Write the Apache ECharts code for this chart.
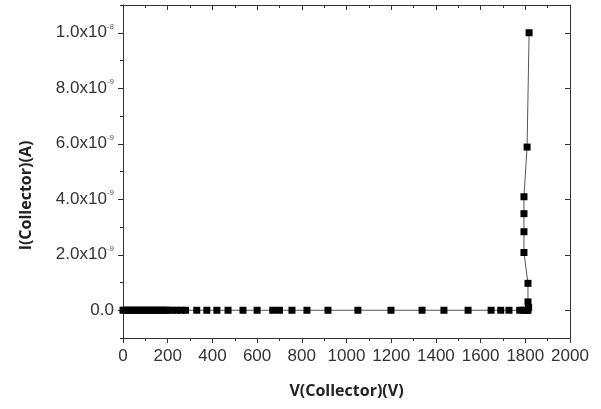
<!DOCTYPE html>
<html>
<head>
<meta charset="utf-8">
<script src="https://cdn.jsdelivr.net/npm/echarts@6/dist/echarts.min.js"></script>
<style>
    html, body { margin: 0; padding: 0; background: #fff; }
    #chart { width: 601px; height: 409px; }
</style>
</head>
<body>
<div id="chart"></div>
<script>
// 数据 (V, A)
const voltage = [
    0, 10, 20, 30, 40, 50, 60, 70, 80, 90, 100, 110, 120, 130, 140, 150, 160, 170, 180, 190, 200,
    220, 240, 260, 280, 330, 375, 420, 470, 537, 600, 670, 700, 756, 823, 917,
    1051, 1199, 1338, 1436, 1544, 1647, 1690, 1727, 1775, 1795, 1805, 1812,
    1815, 1812, 1812, 1794, 1794, 1794, 1794, 1808, 1817,
]
const current = [
    0, 0, 0, 0, 0, 0, 0, 0, 0, 0, 0, 0, 0, 0, 0, 0, 0, 0, 0, 0, 0,
    0, 0, 0, 0, 0, 0, 0, 0, 0, 0, 0, 0, 0, 0, 0,
    0, 0, 0, 0, 0, 0, 0, 0, 0, 0, 0, 0,
    1e-10, 3e-10, 9.7e-10, 2.08e-9, 2.83e-9, 3.48e-9, 4.09e-9, 5.88e-9, 1.0e-8,
]

// 刻度
const yMajor = [0, 2e-9, 4e-9, 6e-9, 8e-9, 1e-8]
const yMinor = [-1e-9, 1e-9, 3e-9, 5e-9, 7e-9, 9e-9, 1.1e-8]
const yLabels = ['0.0', '2.0x10|-9', '4.0x10|-9', '6.0x10|-9', '8.0x10|-9', '1.0x10|-8']

const labelFont = 'Liberation Sans, Arial, sans-serif'
const titleFont = 'Open Sans, Noto Sans, sans-serif'

const chart = echarts.init(document.getElementById('chart'))

const yLabelFmt = (v) => {
    const i = yMajor.findIndex((t) => Math.abs(t - v) < 1e-12)
    if (i < 0) return ''
    const [m, s] = yLabels[i].split('|')
    return s ? `{m|${m}}{s|${s}}` : `{m|${m}}`
}

const axisLine = { show: true, onZero: false, lineStyle: { color: '#333', width: 1 } }

const option = {
    animation: false,
    grid: { left: 123, right: 31, top: 5, bottom: 71 },
    xAxis: [
        {
            type: 'value',
            min: 0,
            max: 2000,
            interval: 200,
            name: 'V(Collector)(V)',
            nameLocation: 'middle',
            nameGap: 45,
            nameTextStyle: { fontFamily: titleFont, fontWeight: 'bold', fontSize: 16, color: '#222' },
            axisLine: axisLine,
            axisTick: { show: true, inside: false, length: 5, lineStyle: { color: '#333' } },
            minorTick: { show: true, splitNumber: 2, length: 3, lineStyle: { color: '#333' } },
            axisLabel: { fontFamily: labelFont, fontSize: 17, color: '#333', margin: 10, formatter: (v) => String(v) },
            splitLine: { show: false },
        },
        {
            type: 'value',
            position: 'top',
            min: 0,
            max: 2000,
            interval: 200,
            axisLine: axisLine,
            axisTick: { show: true, inside: true, length: 5, lineStyle: { color: '#333' } },
            minorTick: { show: true, splitNumber: 2, length: 3, lineStyle: { color: '#333' } },
            axisLabel: { show: false },
            splitLine: { show: false },
        },
    ],
    yAxis: [
        {
            type: 'value',
            min: -1e-9,
            max: 1.1e-8,
            name: 'I(Collector)(A)',
            nameLocation: 'middle',
            nameGap: 89,
            nameRotate: 90,
            nameTextStyle: { fontFamily: titleFont, fontWeight: 'bold', fontSize: 16, color: '#222', padding: [0, 48, 0, 0] },
            axisLine: axisLine,
            axisTick: { show: true, inside: false, length: 5, customValues: yMajor, lineStyle: { color: '#333' } },
            axisLabel: {
                customValues: yMajor,
                formatter: yLabelFmt,
                margin: 9,
                rich: {
                    m: { fontFamily: labelFont, fontSize: 17, color: '#333' },
                    s: { fontFamily: labelFont, fontSize: 8, color: '#555', verticalAlign: 'top', padding: [0, 0, 12, 0] },
                },
            },
            splitLine: { show: false },
        },
        {
            type: 'value',
            position: 'left',
            min: -1e-9,
            max: 1.1e-8,
            axisLine: { show: false },
            axisTick: { show: true, inside: false, length: 3, customValues: yMinor, lineStyle: { color: '#333' } },
            axisLabel: { show: false },
            splitLine: { show: false },
        },
        {
            type: 'value',
            position: 'right',
            min: -1e-9,
            max: 1.1e-8,
            axisLine: axisLine,
            axisTick: { show: true, inside: true, length: 5, customValues: yMajor, lineStyle: { color: '#333' } },
            axisLabel: { show: false },
            splitLine: { show: false },
        },
        {
            type: 'value',
            position: 'right',
            min: -1e-9,
            max: 1.1e-8,
            axisLine: { show: false },
            axisTick: { show: true, inside: true, length: 3, customValues: yMinor, lineStyle: { color: '#333' } },
            axisLabel: { show: false },
            splitLine: { show: false },
        },
    ],
    series: [
        {
            type: 'line',
            data: voltage.map((v, i) => [v, current[i]]),
            symbol: 'rect',
            symbolSize: 7,
            showSymbol: true,
            itemStyle: { color: '#000' },
            lineStyle: { color: '#555', width: 1 },
        },
    ],
}

chart.setOption(option)
</script>
</body>
</html>
